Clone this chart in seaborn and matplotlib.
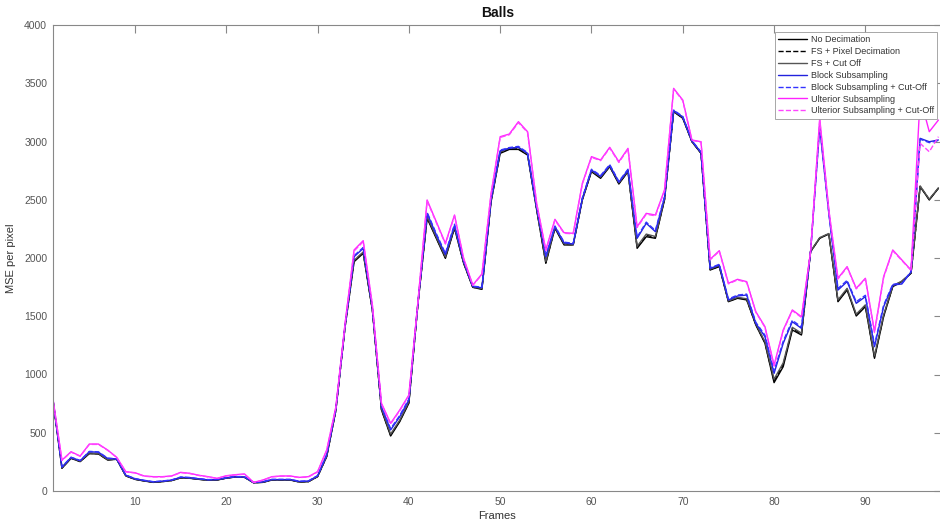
import numpy as np
import pandas as pd
import seaborn as sns
import matplotlib
matplotlib.use("Agg")
import matplotlib.pyplot as plt

frames = list(range(1, 99))

no_decimation = [
    790, 195, 280, 252, 320, 318, 266, 272, 129, 100,
    86, 74, 80, 89, 112, 109, 100, 92, 94, 110,
    120, 117, 70, 74, 94, 94, 94, 77, 80, 123,
    295, 690, 1400, 1968, 2040, 1554, 695, 472, 595, 753,
    1611, 2341, 2169, 1997, 2255, 1954, 1748, 1731, 2480, 2898,
    2932, 2932, 2884, 2412, 1954, 2255, 2112, 2112, 2498, 2741,
    2684, 2784, 2635, 2741, 2083, 2183, 2169, 2498, 3256, 3199,
    2998, 2898, 1897, 1926, 1625, 1654, 1640, 1425, 1268, 930,
    1067, 1382, 1339, 2054, 2169, 2206, 1625, 1725, 1502, 1582,
    1139, 1496, 1754, 1797, 1869, 2612, 2498, 2598,
]

fs_pixel_decimation = [
    790, 198, 282, 254, 324, 320, 268, 273, 131, 101,
    87, 75, 81, 90, 113, 110, 101, 93, 95, 111,
    121, 118, 71, 75, 95, 95, 95, 78, 81, 124,
    298, 692, 1402, 1975, 2048, 1558, 700, 480, 602, 760,
    1613, 2350, 2175, 2005, 2262, 1958, 1750, 1735, 2485, 2905,
    2936, 2938, 2888, 2418, 1962, 2260, 2118, 2115, 2502, 2746,
    2690, 2788, 2640, 2745, 2090, 2195, 2178, 2502, 3258, 3203,
    3000, 2900, 1900, 1930, 1628, 1658, 1645, 1430, 1275, 945,
    1085, 1395, 1348, 2056, 2172, 2208, 1632, 1732, 1510, 1590,
    1150, 1505, 1758, 1800, 1870, 2615, 2502, 2600,
]

fs_cut_off = [
    792, 200, 284, 256, 326, 322, 270, 274, 132, 102,
    88, 76, 82, 91, 114, 111, 102, 94, 96, 112,
    122, 119, 72, 76, 96, 96, 96, 79, 82, 125,
    300, 694, 1404, 1980, 2052, 1560, 705, 488, 608, 766,
    1615, 2356, 2180, 2010, 2266, 1962, 1752, 1738, 2488, 2910,
    2945, 2948, 2894, 2422, 1970, 2264, 2122, 2118, 2506, 2750,
    2695, 2792, 2645, 2750, 2100, 2205, 2185, 2506, 3262, 3208,
    3002, 2905, 1904, 1935, 1632, 1662, 1650, 1435, 1282, 960,
    1100, 1405, 1355, 2058, 2175, 2210, 1640, 1740, 1518, 1598,
    1160, 1512, 1762, 1802, 1872, 2618, 2505, 2602,
]

block_subsampling = [
    795, 205, 288, 260, 337, 333, 280, 275, 135, 105,
    90, 78, 84, 93, 118, 114, 104, 96, 98, 112,
    122, 120, 72, 78, 98, 98, 98, 82, 85, 130,
    310, 700, 1410, 2011, 2083, 1570, 720, 524, 638, 781,
    1620, 2383, 2200, 2030, 2280, 1970, 1755, 1745, 2500, 2920,
    2941, 2950, 2898, 2430, 2011, 2269, 2130, 2120, 2510, 2755,
    2700, 2795, 2650, 2755, 2169, 2298, 2226, 2520, 3265, 3210,
    3005, 2905, 1910, 1940, 1640, 1674, 1682, 1439, 1325, 1010,
    1268, 1453, 1396, 2054, 3120, 2380, 1725, 1797, 1611, 1668,
    1239, 1582, 1768, 1777, 1880, 3027, 2998, 3013,
]

block_subsampling_cut_off = [
    796, 208, 290, 262, 340, 336, 282, 276, 137, 107,
    92, 80, 86, 95, 120, 116, 106, 98, 100, 114,
    124, 122, 74, 80, 100, 100, 100, 84, 87, 132,
    314, 704, 1414, 2020, 2090, 1575, 728, 535, 648, 790,
    1622, 2392, 2210, 2040, 2290, 1975, 1758, 1750, 2505, 2926,
    2948, 2958, 2905, 2436, 2020, 2275, 2136, 2126, 2516, 2762,
    2708, 2802, 2658, 2762, 2180, 2308, 2236, 2526, 3270, 3215,
    3008, 2910, 1915, 1946, 1648, 1682, 1690, 1448, 1338, 1030,
    1285, 1465, 1408, 2056, 3140, 2390, 1738, 1808, 1625, 1680,
    1255, 1595, 1775, 1782, 1884, 3020, 2990, 3008,
]

ulterior_subsampling = [
    800, 265, 337, 300, 403, 403, 352, 289, 166, 157,
    129, 123, 123, 129, 160, 152, 135, 123, 109, 131,
    140, 146, 74, 94, 123, 129, 129, 117, 123, 166,
    352, 720, 1430, 2069, 2149, 1600, 753, 581, 695, 824,
    1630, 2498, 2312, 2126, 2369, 1997, 1768, 1863, 2550, 3041,
    3064, 3170, 3084, 2469, 2069, 2332, 2217, 2212, 2641, 2870,
    2841, 2950, 2827, 2941, 2269, 2383, 2369, 2584, 3456, 3356,
    3013, 2998, 1989, 2063, 1783, 1817, 1797, 1539, 1411, 1080,
    1382, 1554, 1496, 2054, 3200, 2412, 1826, 1926, 1740, 1826,
    1368, 1840, 2069, 1983, 1897, 3380, 3084, 3184,
]

ulterior_subsampling_cut_off = [
    798, 262, 334, 298, 400, 400, 350, 288, 164, 155,
    127, 121, 121, 127, 158, 150, 133, 121, 108, 129,
    138, 144, 73, 92, 121, 127, 127, 115, 121, 163,
    348, 716, 1426, 2060, 2140, 1595, 748, 575, 690, 818,
    1628, 2490, 2305, 2120, 2362, 1993, 1765, 1858, 2545, 3035,
    3058, 3162, 3078, 2464, 2064, 2326, 2212, 2208, 2636, 2864,
    2836, 2944, 2820, 2935, 2262, 2376, 2362, 2578, 3450, 3350,
    3010, 2995, 1985, 2058, 1778, 1812, 1792, 1535, 1405, 1072,
    1375, 1548, 1490, 2054, 3180, 2405, 1820, 1920, 1735, 1820,
    1360, 1832, 2062, 1978, 1894, 2984, 2912, 3041,
]

series_names = [
    "No Decimation",
    "FS + Pixel Decimation",
    "FS + Cut Off",
    "Block Subsampling",
    "Block Subsampling + Cut-Off",
    "Ulterior Subsampling",
    "Ulterior Subsampling + Cut-Off",
]
series_values = [
    no_decimation,
    fs_pixel_decimation,
    fs_cut_off,
    block_subsampling,
    block_subsampling_cut_off,
    ulterior_subsampling,
    ulterior_subsampling_cut_off,
]
series_colors = ["#000000", "#000000", "#555555", "#2222dd", "#3333ff", "#ff22ff", "#ff44ff"]
series_dashes = ["-", "--", "-", "-", "--", "-", "--"]

x_ticks = [10, 20, 30, 40, 50, 60, 70, 80, 90]
y_ticks = [0, 500, 1000, 1500, 2000, 2500, 3000, 3500, 4000]

sns.set_style("white")
plt.rcParams["font.family"] = ["Liberation Sans", "DejaVu Sans"]

fig = plt.figure(figsize=(9.4, 5.27), dpi=100)
# axes box: left at x=52.8px, bottom at y=491px, top at y=25px, right just past the frame
left, bottom, top = 52.8 / 940, 1 - 491 / 527, 1 - 25 / 527
right = 942 / 940
ax = fig.add_axes([left, bottom, right - left, top - bottom])

df = pd.DataFrame({"Frames": frames})
for name, vals, col, ls in zip(series_names, series_values, series_colors, series_dashes):
    df[name] = vals
    sns.lineplot(x="Frames", y=name, data=df, ax=ax, color=col, linestyle=ls,
                 linewidth=1.0, label=name)

ax.set_xlim(1, 1 + (942 - 52.8) / 9.13)
ax.set_ylim(0, 4000)
ax.set_xticks(x_ticks)
ax.set_yticks(y_ticks)
ax.set_xlabel("Frames", fontsize=8, color="#333333", labelpad=3)
ax.set_ylabel("MSE per pixel", fontsize=8, color="#333333", labelpad=6)
ax.set_title("Balls", fontsize=10, fontweight="bold", color="#111111", pad=6)

ax.tick_params(axis="both", direction="in", length=6, width=0.8, color="#888888",
               labelsize=7.5, labelcolor="#555555", top=True, right=True, pad=4)
for sp in ax.spines.values():
    sp.set_color("#888888")
    sp.set_linewidth(0.8)

leg = ax.legend(loc="upper right", bbox_to_anchor=(937 / 940, 1 - 32 / 527),
                bbox_transform=fig.transFigure, borderaxespad=0, fontsize=6.5,
                frameon=True, fancybox=False, edgecolor="#999999", framealpha=1,
                handlelength=3.2, handletextpad=0.4, labelspacing=0.32,
                borderpad=0.35)
for t in leg.get_texts():
    t.set_color("#333333")
leg.get_frame().set_linewidth(0.6)

fig.savefig("out.png", dpi=100)
